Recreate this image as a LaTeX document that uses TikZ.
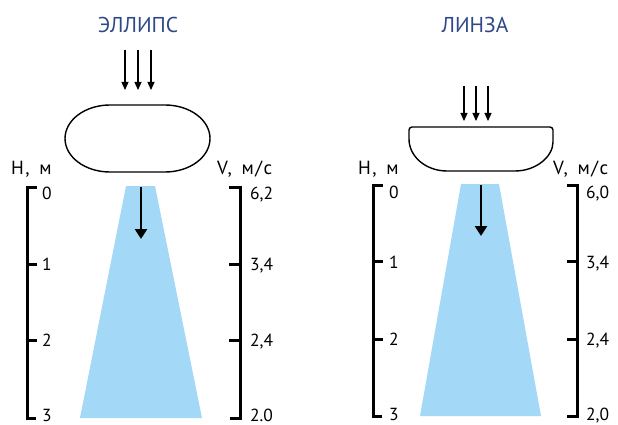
\documentclass[tikz,border=0pt]{standalone}
\usepackage{fontspec}
\setmainfont{PT Sans}
\newfontfamily\axisfont[LetterSpace=8]{PT Sans}
\usetikzlibrary{arrows.meta}
\definecolor{titleblue}{RGB}{46,72,136}
\definecolor{beamblue}{RGB}{163,217,247}
\tikzset{
  ttl/.style={text=titleblue,font=\fontsize{21.5}{24}\selectfont,inner sep=0pt,anchor=base},
  axttl/.style={font=\axisfont\fontsize{19}{21}\selectfont,inner sep=0pt,anchor=base west},
  num/.style={font=\fontsize{17.5}{20}\selectfont,inner sep=0pt,anchor=base west},
  body/.style={line width=1.4pt,line join=round},
  inarrow/.style={line width=1.1pt,-{Triangle[width=7pt,length=8pt]}},
  beamarrow/.style={line width=2.6pt,-{Triangle[width=12pt,length=10pt]}},
  ruler/.style={line width=3pt},
  beam/.style={fill=beamblue,draw=none}
}
\begin{document}
\begin{tikzpicture}[x=1pt,y=-1pt]
\useasboundingbox (0,0) rectangle (618,425);
% ================= left panel =================
\node[ttl] (t1) at (138,32.5) {ЭЛЛИПС};
\coordinate (a1s) at (125,50); \coordinate (a1e) at (125,90);
\coordinate (a2s) at (138,50); \coordinate (a2e) at (138,90);
\coordinate (a3s) at (151,50); \coordinate (a3e) at (151,90);
\draw[inarrow] (a1s) -- (a1e);
\draw[inarrow] (a2s) -- (a2e);
\draw[inarrow] (a3s) -- (a3e);
\draw[body] (110,105) -- (165,105)
  arc[start angle=-90,end angle=90,x radius=45,y radius=33.5]
  -- (110,172)
  arc[start angle=90,end angle=270,x radius=45,y radius=33.5] -- cycle;
\fill[beam] (126,186) -- (155,186) -- (202,418) -- (80,418) -- cycle;
\coordinate (b1s) at (141,187); \coordinate (b1e) at (141,239);
\draw[beamarrow] (b1s) -- (b1e);
\node[axttl] (h1) at (11,174) {Н,\hspace{0.5em}м};
\node[axttl] (v1) at (217,174) {V,\hspace{0.5em}м/с};
\draw[ruler,line join=miter] (37,187) -- (27,187) -- (27,418) -- (36,418);
\draw[ruler] (27,264) -- (37,264);
\draw[ruler] (27,340) -- (37,340);
\draw[ruler,line join=miter] (229,187) -- (240,187) -- (240,418) -- (230,418);
\draw[ruler] (229,264) -- (240,264);
\draw[ruler] (229,340) -- (240,340);
\node[num] (h10) at (42,199.5) {0};
\node[num] (h11) at (42,270) {1};
\node[num] (h12) at (42,346) {2};
\node[num] (h13) at (42,421) {3};
\node[num] (v10) at (250,199.5) {6,2};
\node[num] (v11) at (250,270) {3,4};
\node[num] (v12) at (250,346) {2,4};
\node[num] (v13) at (250,421) {2.0};
% ================= right panel =================
\node[ttl] (t2) at (475,32.5) {ЛИНЗА};
\coordinate (c1s) at (464,86); \coordinate (c1e) at (464,121);
\coordinate (c2s) at (476,86); \coordinate (c2e) at (476,121);
\coordinate (c3s) at (488,86); \coordinate (c3e) at (488,121);
\draw[inarrow] (c1s) -- (c1e);
\draw[inarrow] (c2s) -- (c2e);
\draw[inarrow] (c3s) -- (c3e);
\draw[body] (409,139) [rounded corners=3pt] -- (409,127) -- (553,127) -- (553,139) [sharp corners]
  arc[start angle=0,end angle=90,x radius=38,y radius=32]
  -- (447,171)
  arc[start angle=90,end angle=180,x radius=38,y radius=32] -- cycle;
\fill[beam] (461,184) -- (499,184) -- (541,416) -- (420,416) -- cycle;
\coordinate (b2s) at (481,185); \coordinate (b2e) at (481,236);
\draw[beamarrow] (b2s) -- (b2e);
\node[axttl] (h2) at (358,174) {Н,\hspace{0.5em}м};
\node[axttl] (v2) at (553,174) {V,\hspace{0.5em}м/с};
\draw[ruler,line join=miter] (383,185) -- (373,185) -- (373,416) -- (382,416);
\draw[ruler] (373,261) -- (383,261);
\draw[ruler] (373,339) -- (383,339);
\draw[ruler,line join=miter] (567,185) -- (577,185) -- (577,416) -- (567,416);
\draw[ruler] (567,261) -- (577,261);
\draw[ruler] (567,339) -- (577,339);
\node[num] (h20) at (389,198) {0};
\node[num] (h21) at (389,268) {1};
\node[num] (h22) at (389,345) {2};
\node[num] (h23) at (389,420.5) {3};
\node[num] (v20) at (586,198) {6,0};
\node[num] (v21) at (586,268) {3,4};
\node[num] (v22) at (586,345) {2,4};
\node[num] (v23) at (586,420.5) {2,0};
\end{tikzpicture}
\end{document}
